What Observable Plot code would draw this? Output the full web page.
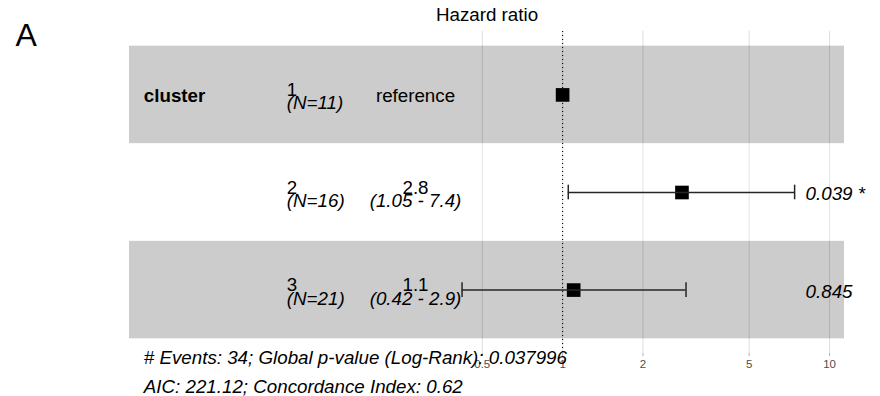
<!DOCTYPE html>
<html>
<head>
<meta charset="utf-8">
<script src="https://cdn.jsdelivr.net/npm/d3@7"></script>
<script src="https://cdn.jsdelivr.net/npm/@observablehq/plot@0.6"></script>
<style>
  body { margin: 0; background: #fff; }
  #chart { width: 880px; height: 396px; }
</style>
</head>
<body>
<div id="chart"></div>
<script>
// ---- data ----
const variables = ["cluster", "", ""];
const levels = ["1", "2", "3"];
const nCounts = ["(N=11)", "(N=16)", "(N=21)"];
const estimates = [1, 2.8, 1.1];
const ciLow = [null, 1.05, 0.42];
const ciHigh = [null, 7.4, 2.9];
const estLabels = ["reference", "2.8", "1.1"];
const ciLabels = ["", "(1.05 - 7.4)", "(0.42 - 2.9)"];
const pLabels = ["", "0.039 *", "0.845"];
const breaks = [0.5, 1, 2, 5, 10];
const breakLabels = ["0.5", "1", "2", "5", "10"];
const panelLabel = "A";
const title = "Hazard ratio";
const captionLines = [
  "# Events: 34; Global p-value (Log-Rank): 0.037996",
  "AIC: 221.12; Concordance Index: 0.62"
];
const columnPositions = [0.02, 0.22, 0.4]; // variable, level, estimate columns (fraction of width)

// ---- layout derived like ggforest ----
const n = levels.length;
const rows = levels.map((lev, i) => ({
  row: i + 1,
  variable: variables[i],
  level: lev,
  nLabel: nCounts[i],
  estimate: estimates[i],
  low: ciLow[i],
  high: ciHigh[i],
  estLabel: estLabels[i],
  ciLabel: ciLabels[i],
  pLabel: pLabels[i]
}));
const ticks = breaks.map((b, i) => ({value: b, label: breakLabels[i]}));
const ciVals = ciLow.concat(ciHigh).filter(v => v != null);
const rb0 = Math.log(d3.min(ciVals)), rb1 = Math.log(d3.max(ciVals));
const rp0 = rb0 - (rb1 - rb0);
const rp1 = rb1 + 0.15 * (rb1 - rb0);
const w = rp1 - rp0;
const xVar = Math.exp(rp0 + columnPositions[0] * w);
const xLevel = Math.exp(rp0 + columnPositions[1] * w);
const xCI = Math.exp(rp0 + columnPositions[2] * w);
const xStars = Math.exp(rb1);
const xMin = Math.exp(rp0), xMax = Math.exp(rp1);

const withCI = rows.filter(d => d.low != null);
const caps = withCI.flatMap(d => [{row: d.row, v: d.low}, {row: d.row, v: d.high}]);
const refRows = rows.filter(d => d.low == null);

const FS = 18.75;
const font = "'Liberation Sans', Arial, Helvetica, sans-serif";

const chart = Plot.plot({
  width: 880,
  height: 396,
  marginLeft: 93,
  marginRight: 0,
  marginTop: 31,
  marginBottom: 43,
  style: {fontFamily: font, background: "#fff", color: "#000"},
  x: {type: "log", domain: [xMin, xMax], range: [129, 844], axis: null},
  y: {domain: [0.5 - 0.05 * n, n + 0.5 + 0.05 * n], reverse: true, axis: null},
  marks: [
    Plot.gridX(breaks, {stroke: "#dedede", strokeOpacity: 1, strokeWidth: 1}),
    Plot.rect(rows.filter(d => d.row % 2 === 1), {
      x1: () => xMin, x2: () => xMax, y1: d => d.row - 0.5, y2: d => d.row + 0.5,
      fill: "#000", fillOpacity: 0.2
    }),
    Plot.rect(rows.filter(d => d.row % 2 === 0), {
      x1: () => xMin, x2: () => xMax, y1: d => d.row - 0.5, y2: d => d.row + 0.5,
      fill: "#fff", fillOpacity: 0.2
    }),
    Plot.dot(rows, {x: "estimate", y: "row", symbol: "square", r: 7.7, fill: "#000", stroke: null}),
    Plot.ruleY(withCI, {x1: "low", x2: "high", y: "row", stroke: "#262626", strokeWidth: 1.5}),
    Plot.ruleX(caps, {x: "v", y1: d => d.row - 0.075, y2: d => d.row + 0.075, stroke: "#262626", strokeWidth: 1.5}),
    Plot.ruleX([1], {stroke: "#000", strokeWidth: 1.1, strokeDasharray: "1.1,2.9"}),
    // axis ticks (labels drawn separately)
    Plot.axisX(breaks, {tickSize: 3, stroke: "#b3b3b3", fill: "none", label: null}),
    Plot.text(ticks, {
      x: "value", frameAnchor: "bottom", text: "label", textAnchor: "middle", lineAnchor: "top",
      fontSize: 11.5, dy: 6, fill: "#4d4d4d"
    }),
    // variable column
    Plot.text(rows.filter(d => d.variable), {
      x: () => xVar, y: "row", text: "variable", textAnchor: "start",
      fontWeight: "bold", fontSize: FS, dy: 1.5, fill: "#000"
    }),
    // level + N column
    Plot.text(rows, {x: () => xLevel, y: "row", text: "level", textAnchor: "start", fontSize: FS, dy: -5, fill: "#000"}),
    Plot.text(rows, {x: () => xLevel, y: "row", text: "nLabel", textAnchor: "start", fontStyle: "italic", fontSize: FS, dy: 8.5, fill: "#000"}),
    // estimate + CI column
    Plot.text(refRows, {x: () => xCI, y: "row", text: "estLabel", textAnchor: "middle", fontSize: FS, dy: 1.5, fill: "#000"}),
    Plot.text(withCI, {x: () => xCI, y: "row", text: "estLabel", textAnchor: "middle", fontSize: FS, dy: -5, fill: "#000"}),
    Plot.text(withCI, {x: () => xCI, y: "row", text: "ciLabel", textAnchor: "middle", fontStyle: "italic", fontSize: FS, dy: 8.5, fill: "#000"}),
    // p-values
    Plot.text(rows.filter(d => d.pLabel), {
      x: () => xStars, y: "row", text: "pLabel", textAnchor: "start",
      fontStyle: "italic", fontSize: FS, dx: 11, dy: 1.5, fill: "#000"
    }),
    // caption
    Plot.text([captionLines.join("\n")], {
      x: () => xVar, y: () => n + 0.5, text: d => d, textAnchor: "start", lineAnchor: "top",
      lineHeight: 1.55, fontStyle: "italic", fontSize: FS, dy: 4.7, fill: "#000"
    }),
    // title
    Plot.text([title], {
      frameAnchor: "top", text: d => d, textAnchor: "middle", lineAnchor: "middle",
      fontSize: FS, dy: -17, fill: "#000"
    }),
    // panel letter
    Plot.text([panelLabel], {
      frameAnchor: "top-left", text: d => d, textAnchor: "start", lineAnchor: "middle",
      fontSize: 32, dx: -78, dy: 3.8, fill: "#000"
    })
  ]
});
document.getElementById("chart").appendChild(chart);
</script>
</body>
</html>
